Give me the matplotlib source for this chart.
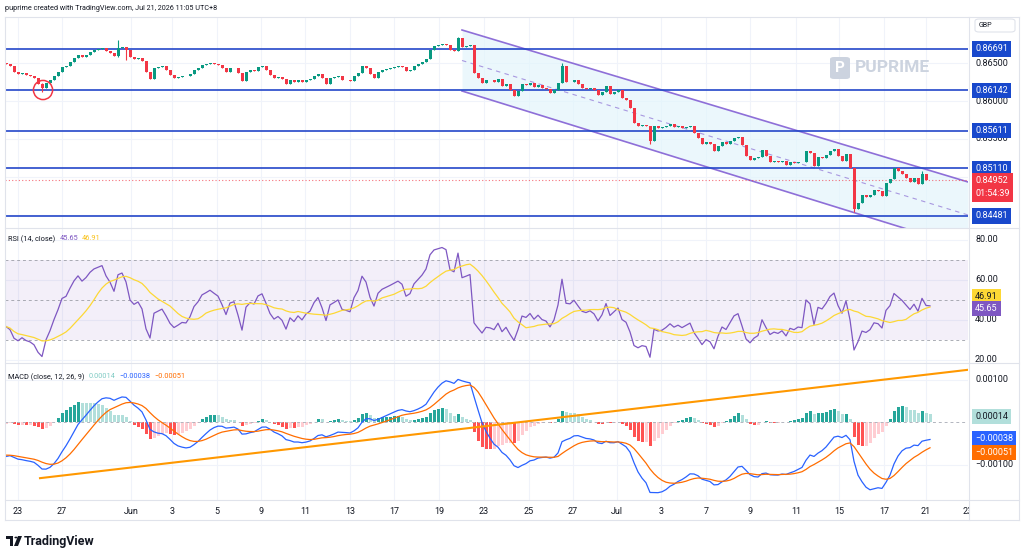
import matplotlib
matplotlib.use("Agg")
import matplotlib.pyplot as plt
import matplotlib.transforms as mtransforms
from matplotlib.lines import Line2D
from matplotlib.patches import Rectangle, FancyBboxPatch, Polygon, Circle
import numpy as np
import pandas as pd

plt.rcParams['font.family'] = ['Roboto', 'DejaVu Sans']

# 4h candles, closes (open = previous close)
first_open = 0.86505
closes = [
    0.86492, 0.86466, 0.86386, 0.86360, 0.86373, 0.86347, 0.86334, 0.86307, 0.86228, 0.86175,
    0.86241, 0.86281, 0.86334, 0.86386, 0.86453, 0.86466, 0.86519, 0.86572, 0.86611, 0.86585,
    0.86611, 0.86651, 0.86678, 0.86691, 0.86704, 0.86664, 0.86638, 0.86598, 0.86704, 0.86717,
    0.86678, 0.86585, 0.86559, 0.86572, 0.86532, 0.86386, 0.86294, 0.86439, 0.86453, 0.86466,
    0.86413, 0.86347, 0.86307, 0.86320, 0.86334, 0.86330, 0.86360, 0.86413, 0.86439, 0.86479,
    0.86492, 0.86506, 0.86492, 0.86479, 0.86439, 0.86386, 0.86439, 0.86445, 0.86373, 0.86267,
    0.86386, 0.86413, 0.86405, 0.86453, 0.86466, 0.86413, 0.86347, 0.86307, 0.86320, 0.86294,
    0.86228, 0.86281, 0.86254, 0.86281, 0.86254, 0.86281, 0.86294, 0.86334, 0.86360, 0.86307,
    0.86228, 0.86307, 0.86320, 0.86334, 0.86281, 0.86275, 0.86267, 0.86334, 0.86373, 0.86466,
    0.86439, 0.86360, 0.86307, 0.86386, 0.86413, 0.86426, 0.86439, 0.86453, 0.86466, 0.86453,
    0.86400, 0.86413, 0.86466, 0.86492, 0.86519, 0.86559, 0.86678, 0.86730, 0.86744, 0.86757,
    0.86750, 0.86678, 0.86670, 0.86836, 0.86717, 0.86730, 0.86744, 0.86373, 0.86307, 0.86241,
    0.86281, 0.86275, 0.86254, 0.86294, 0.86201, 0.86228, 0.86148, 0.86069, 0.86135, 0.86228,
    0.86214, 0.86241, 0.86188, 0.86214, 0.86175, 0.86162, 0.86109, 0.86148, 0.86241, 0.86466,
    0.86254, 0.86248, 0.86281, 0.86228, 0.86175, 0.86162, 0.86175, 0.86148, 0.86082, 0.86122,
    0.86201, 0.86095, 0.86122, 0.86148, 0.86043, 0.86016, 0.85910, 0.85712, 0.85672, 0.85685,
    0.85672, 0.85473, 0.85672, 0.85646, 0.85652, 0.85672, 0.85698, 0.85659, 0.85672, 0.85646,
    0.85659, 0.85672, 0.85579, 0.85513, 0.85434, 0.85460, 0.85434, 0.85341, 0.85407, 0.85460,
    0.85434, 0.85473, 0.85513, 0.85526, 0.85421, 0.85275, 0.85222, 0.85248, 0.85262, 0.85354,
    0.85275, 0.85195, 0.85209, 0.85195, 0.85209, 0.85156, 0.85195, 0.85182, 0.85195, 0.85190,
    0.85341, 0.85315, 0.85143, 0.85262, 0.85248, 0.85288, 0.85341, 0.85368, 0.85275, 0.85209,
    0.85301, 0.85116, 0.84574, 0.84653, 0.84759, 0.84732, 0.84759, 0.84825, 0.84812, 0.84746,
    0.84918, 0.84970, 0.85116, 0.85076, 0.85037, 0.84984, 0.84931, 0.84984, 0.84904, 0.85037,
    0.84957, 0.84952,
]
# visible wicks: candle index -> (high, low)
wicks = {9: (0.86241, 0.86122), 28: (0.86810, 0.86585), 30: (0.86717, 0.86545),
         113: (0.86850, 0.86670), 139: (0.86506, 0.86241), 161: (0.85672, 0.85434),
         212: (0.85116, 0.84534), 229: (0.85076, 0.84904)}

date_labels = ["23", "27", "Jun", "3", "5", "9", "11", "13", "17", "19", "23", "25",
               "27", "Jul", "3", "7", "9", "11", "15", "17", "21", "23"]
date_index = [3, 14, 31.25, 41.5, 52.75, 63.75, 74.75, 86, 97, 108.25, 119.5, 130.75,
              141.75, 152.75, 163.75, 175, 186, 197.5, 208.25, 219.5, 230, 240.5]

levels = [0.86691, 0.86142, 0.85611, 0.85110, 0.84481]
price_ticks = [0.86500, 0.86000, 0.85500, 0.85000, 0.84500]
price_tick_labels = ["0.86500", "0.86000", "0.85500", "", ""]   # last two sit under the level tags
last_price = 0.84952
countdown = "01:54:39"

channel_x = [114, 240.5]
channel_top = [0.86942, 0.84931]
channel_bottom = [0.86135, 0.84058]
marked_low = (9.25, 0.86148)

rsi_ticks = [80, 60, 40, 20]
rsi_last, rsi_ma_last = 45.65, 46.91
macd_ticks = [0.001, -0.001]
hist_last, macd_last, signal_last = 0.00014, -0.00038, -0.00051
macd_trend_x = [8.5, 240.5]
macd_trend_y = [-0.00131, 0.00124]

# indicator state at the left edge, read from the RSI / MACD panels
rsi_seed = (0.00018, 0.00030)            # avg gain, avg loss
macd_seed = (0.86520, 0.86604, -0.00076)  # ema12, ema26, signal

UP, DOWN = '#089981', '#f23645'
W, H = 1024, 558

# indicators
g, l = rsi_seed
e12, e26, sig = macd_seed
prev = first_open
rsi, macd, signal = [], [], []
for cl in closes:
    ch = cl - prev
    g = (g * 13 + max(ch, 0)) / 14
    l = (l * 13 + max(-ch, 0)) / 14
    rsi.append(100 - 100 / (1 + g / l))
    e12 += 2 / 13 * (cl - e12)
    e26 += 2 / 27 * (cl - e26)
    m = e12 - e26
    sig += 2 / 10 * (m - sig)
    macd.append(m)
    signal.append(sig)
    prev = cl
rsi_ma = pd.Series(rsi).rolling(14, min_periods=1).mean()
hist = [m - s for m, s in zip(macd, signal)]

fig = plt.figure(figsize=(W / 100, H / 100), dpi=100)
fig.patch.set_facecolor('white')


def box(y0, y1):
    return [5 / W, 1 - y1 / H, 963 / W, (y1 - y0) / H]


ax1 = fig.add_axes(box(17, 228))
ax2 = fig.add_axes(box(228, 363))
ax3 = fig.add_axes(box(363, 500))
x = np.arange(len(closes))
for ax in (ax1, ax2, ax3):
    ax.set_xlim(-0.25, 240.5)
    for s in ax.spines.values():
        s.set_visible(False)
    ax.set_xticks(date_index)
    ax.tick_params(axis='x', length=0, labelbottom=False)
    ax.tick_params(axis='y', left=False, labelleft=False)
    ax.grid(axis='x', color='#f0f3fa', lw=0.8)
    ax.set_axisbelow(True)

# ---- price panel
ax1.set_ylim(0.84322, 0.87114)
ax1.set_yticks(price_ticks)
ax1.grid(axis='y', color='#f0f3fa', lw=0.8)
ax1.fill_between(channel_x, channel_top, channel_bottom, color='#e3f5fc', alpha=0.7, lw=0, zorder=1)
ax1.plot(channel_x, channel_top, color='#8e6fd8', lw=1.2, zorder=2)
ax1.plot(channel_x, channel_bottom, color='#8e6fd8', lw=1.2, zorder=2)
ax1.plot(channel_x, [(a + b) / 2 for a, b in zip(channel_top, channel_bottom)],
         color='#a898e0', lw=0.8, ls=(0, (4, 4)), zorder=2)
for lv in levels:
    ax1.axhline(lv, color='#2447c9', lw=1.2, zorder=3)
ax1.axhline(last_price, color=DOWN, lw=0.8, ls=(0, (1, 2)), alpha=0.7, zorder=3)

opens = [first_open] + closes[:-1]
highs = [max(o, cl) for o, cl in zip(opens, closes)]
lows = [min(o, cl) for o, cl in zip(opens, closes)]
for i, (hi, lo) in wicks.items():
    highs[i], lows[i] = hi, lo
cols = [UP if cl >= o else DOWN for o, cl in zip(opens, closes)]
ax1.vlines(x, lows, highs, colors=cols, lw=0.8, zorder=4)
ax1.bar(x, [max(abs(cl - o), 0.00003) for o, cl in zip(opens, closes)],
        bottom=[min(o, cl) for o, cl in zip(opens, closes)], width=0.75, color=cols, lw=0, zorder=5)
ax1.scatter([marked_low[0]], [marked_low[1]], s=190, facecolors='none', edgecolors=DOWN, lw=1.1, zorder=6)

# ---- RSI panel
ax2.set_ylim(18.5, 86)
ax2.set_yticks(rsi_ticks)
ax2.grid(axis='y', color='#f0f3fa', lw=0.8)
ax2.axhspan(30, 70, color='#7e57c2', alpha=0.09, lw=0)
for lv in (70, 50, 30):
    ax2.axhline(lv, color='#9598a1', lw=0.7, ls=(0, (3, 3)), alpha=0.8)
ax2.plot(x, rsi, color='#7e57c2', lw=0.9)
ax2.plot(x, rsi_ma, color='#fdd835', lw=0.9)

# ---- MACD panel
ax3.set_ylim(-0.001824, 0.0014)
ax3.set_yticks(macd_ticks)
ax3.grid(axis='y', color='#f0f3fa', lw=0.8)
ax3.axhline(0, color='#b2b5be', lw=0.7, ls=(0, (3, 3)))
hcols = []
for i, h in enumerate(hist):
    p = hist[i - 1] if i else h
    if h >= 0:
        hcols.append('#26a69a' if h >= p else '#b2dfdb')
    else:
        hcols.append('#ffcdd2' if h >= p else '#ff5252')
ax3.bar(x, hist, width=0.75, color=hcols, lw=0)
ax3.plot(x, macd, color='#2962ff', lw=0.9)
ax3.plot(x, signal, color='#ff6d00', lw=0.9)
ax3.plot(macd_trend_x, macd_trend_y, color='#ff9800', lw=1.5)
ax3.tick_params(axis='x', labelbottom=True, labelsize=6.5, pad=5, labelcolor='#131722')
ax3.set_xticklabels(date_labels)


# ---- right-hand scale
def rlabel(ax, val, txt, fc=None, tc='#131722', dy=0, va='center'):
    tr = mtransforms.blended_transform_factory(fig.transFigure, ax.transData)
    tr = tr + mtransforms.ScaledTranslation(0, dy / 72, fig.dpi_scale_trans)
    kw = dict(boxstyle='square,pad=0.35', fc=fc, ec='none') if fc else None
    ax.text(975 / W, val, txt, transform=tr, ha='left', va=va, fontsize=6.5, color=tc,
            bbox=kw, clip_on=False, zorder=20 if fc else 10, linespacing=1.6)


for t, lab in zip(price_ticks, price_tick_labels):
    if lab:
        rlabel(ax1, t, lab)
for lv in levels:
    rlabel(ax1, lv, f"{lv:.5f}", fc='#1848cc', tc='white')
rlabel(ax1, last_price, f"{last_price:.5f}\n{countdown}", fc=DOWN, tc='white', dy=3, va='top')
for t in rsi_ticks:
    rlabel(ax2, t, f"{t:.2f}")
rlabel(ax2, rsi_ma_last, f"{rsi_ma_last:.2f}", fc='#fdd835', dy=7)
rlabel(ax2, rsi_last, f"{rsi_last:.2f}", fc='#7e57c2', tc='white')
for t in macd_ticks:
    rlabel(ax3, t, f"{t:.5f}".replace('-', '\u2212'))
rlabel(ax3, hist_last, f"{hist_last:.5f}", fc='#b2dfdb')
rlabel(ax3, macd_last, f"{macd_last:.5f}".replace('-', '\u2212'), fc='#2962ff', tc='white')
rlabel(ax3, signal_last, f"{signal_last:.5f}".replace('-', '\u2212'), fc='#ff6d00', tc='white', dy=-6)

# ---- legends (chained left to right)
renderer = fig.canvas.get_renderer()


def legend(y, parts):
    xp = 8
    for txt, col in parts:
        t = fig.text(xp / W, 1 - y / H, txt, fontsize=5.3, color=col, va='center')
        xp = t.get_window_extent(renderer).x1 + 4


legend(239, [("RSI (14, close)", '#131722'), (f"{rsi_last:.2f}", '#7e57c2'),
             (f"{rsi_ma_last:.2f}", '#f9c21a')])
legend(377, [("MACD (close, 12, 26, 9)", '#131722'), (f"{hist_last:.5f}", '#80cbc4'),
             (f"{macd_last:.5f}".replace('-', '\u2212'), '#2962ff'),
             (f"{signal_last:.5f}".replace('-', '\u2212'), '#ff6d00')])


# ---- frame, header, footer
def fline(x0, y0, x1, y1):
    fig.add_artist(Line2D([x0 / W, x1 / W], [1 - y0 / H, 1 - y1 / H], transform=fig.transFigure,
                          color='#e0e3eb', lw=0.8, zorder=6))


fig.add_artist(Rectangle((969 / W, 1 - 519 / H), 50 / W, 18 / H, transform=fig.transFigure,
                         fc='white', ec='none', zorder=5))
for y in (17, 228, 363, 500, 520):
    fline(5, y, 1019, y)
fline(5, 17, 5, 520)
fline(1019, 17, 1019, 520)
fline(968.5, 17, 968.5, 520)

fig.add_artist(FancyBboxPatch((975 / W, 1 - 32 / H), 40 / W, 13 / H, boxstyle='round,pad=0,rounding_size=0.004',
                              transform=fig.transFigure, fc='white', ec='#e0e3eb', lw=0.8, zorder=7))
fig.text(979 / W, 1 - 25.5 / H, "GBP", fontsize=5, color='#131722', va='center', zorder=8)

fig.text(5 / W, 1 - 8 / H, "puprime created with TradingView.com, Jul 21, 2026 11:05 UTC+8",
         fontsize=5.2, color='#131722', va='center')

# watermark
fig.add_artist(FancyBboxPatch((830 / W, 1 - 79 / H), 20 / W, 22 / H, boxstyle='round,pad=0,rounding_size=0.004',
                              transform=fig.transFigure, fc='#ccd3df', ec='none', zorder=7))
fig.text(834.5 / W, 1 - 68 / H, "P", fontsize=11, color='white', weight='bold', va='center', zorder=8)
fig.text(855 / W, 1 - 68 / H, "PUPRIME", fontsize=12.5, color='#ccd3df', weight='bold', va='center', zorder=8)

# TradingView logo
fig.add_artist(Polygon([(6 / W, 1 - 536 / H), (13 / W, 1 - 536 / H), (13 / W, 1 - 546 / H),
                        (10 / W, 1 - 546 / H), (10 / W, 1 - 539 / H), (6 / W, 1 - 539 / H)],
                       closed=True, transform=fig.transFigure, fc='#131722', ec='none'))
fig.add_artist(Circle((16 / W, 1 - 537.5 / H), 1.6 / W, transform=fig.transFigure, fc='#131722', ec='none'))
fig.add_artist(Polygon([(18 / W, 1 - 536 / H), (22 / W, 1 - 536 / H), (18 / W, 1 - 546 / H), (14 / W, 1 - 546 / H)],
                       closed=True, transform=fig.transFigure, fc='#131722', ec='none'))
fig.text(24 / W, 1 - 541 / H, "TradingView", fontsize=9, color='#131722', weight='bold', va='center')

fig.savefig('out.png', dpi=100, facecolor='white')
